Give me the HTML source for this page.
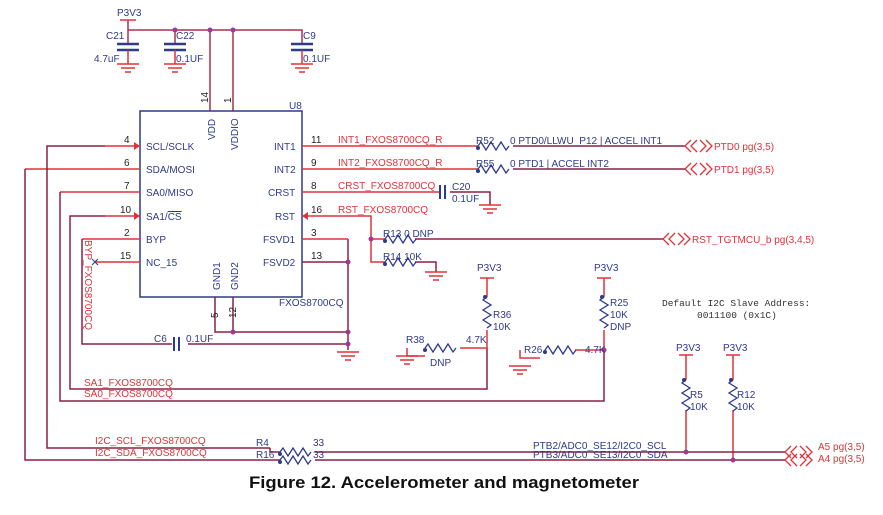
<!DOCTYPE html>
<html><head><meta charset="utf-8"><style>
body{margin:0;background:#fff;width:883px;height:515px;overflow:hidden}
svg{display:block}
text{font-family:"Liberation Sans",Arial,sans-serif;font-size:10px}
.b{fill:#2e3a8a}.r{fill:#e0323a}
</style></head><body>
<svg width="883" height="515" viewBox="0 0 883 515" xmlns="http://www.w3.org/2000/svg">
<defs>
<g id="gnd"><path d="M-11 0H11M-7 4H7M-3 8H3" stroke="#e0323a" stroke-width="1.5" fill="none"/></g>
<g id="rh"><path d="M0 0l3-4 5 8 5-8 5 8 5-8 5 8 3-4" stroke="#2e3a8a" stroke-width="1.3" fill="none"/><circle cx="0" cy="2" r="2" fill="#2e3a8a"/></g>
<g id="rv"><path d="M0 0l-4 3 8 5-8 5 8 5-8 5 8 5-4 3" stroke="#2e3a8a" stroke-width="1.3" fill="none"/><circle cx="-2" cy="0" r="2" fill="#2e3a8a"/></g>
<g id="port"><path d="M6-6L0 0l6 6M12-6L6 0l6 6M15-6l6 6-6 6M21-6l6 6-6 6" stroke="#e0323a" stroke-width="1.3" fill="none"/></g>
</defs>
<g fill="none" stroke-width="1.5">
<path d="M128 20V30H302V44M175 30V44M210 30V111M233 30V111M128 30V44" stroke="#a8324a"/>
<path d="M120 20H136" stroke="#e0323a"/>
<path d="M117 44H139M117 50H139M164 44H186M164 50H186M291 44H313M291 50H313" stroke="#2e3a8a" stroke-width="2.5"/>
<path d="M128 50V64M175 50V64M302 50V64" stroke="#e0323a"/>
<rect x="140" y="111" width="162" height="186" stroke="#2e3a8a"/>
<path d="M105 146H140M25 169H140M60 192H140M105 216H140M82 239H140M95 262H140" stroke="#e0323a"/>
<path d="M105 146H47V448H270M25 169V460H270M60 192V401H604V350M105 216H70V389H487V348M82 239V344H172" stroke="#8b2040"/>
<path d="M188 344H348M215 297V332H348M233 297V332M348 239V350M302 262H348" stroke="#8b2040"/>
<path d="M302 239H348" stroke="#e0323a"/>
<path d="M302 146H478M302 169H478M302 192H440M302 216H371V262H385M371 239H385" stroke="#e0323a"/>
<path d="M513 146H685M513 169H685M415 239H663M415 262H436V272M450 192H490V205" stroke="#8b2040"/>
<path d="M487 278V297M604 278V297M487 330V348H460M407 348V356H425M604 330V350H575M520 350V358H540" stroke="#e0323a"/>
<path d="M480 278H494M597 278H611M679 355H693M726 355H740" stroke="#e0323a"/>
<path d="M686 355V380M733 355V380M686 410V452M733 410V460" stroke="#e0323a"/>
<path d="M315 452H785M315 460H785M270 448V452H280M270 460H280" stroke="#8b2040"/>
<path d="M440 185V199M445 185V199M174 337V351M179 337V351" stroke="#2e3a8a" stroke-width="2"/>
</g>
<path d="M140 146l-6-4v8zM140 216l-6-4v8zM302 216l6-4v8z" fill="#e0323a"/>
<path d="M92 259l6 6M98 259l-6 6" stroke="#2e3a8a"/>
<use href="#gnd" x="128" y="64"/><use href="#gnd" x="175" y="64"/><use href="#gnd" x="302" y="64"/>
<use href="#gnd" x="490" y="205"/><use href="#gnd" x="436" y="272"/><use href="#gnd" x="348" y="352"/>
<use href="#gnd" x="407" y="356"/><use href="#gnd" x="520" y="366"/>
<use href="#rh" x="478" y="146"/><use href="#rh" x="478" y="169"/><use href="#rh" x="385" y="239"/><use href="#rh" x="385" y="262"/>
<use href="#rh" x="425" y="348"/><use href="#rh" x="545" y="350"/><use href="#rh" x="280" y="452"/><use href="#rh" x="280" y="460"/>
<use href="#rv" x="487" y="297"/><use href="#rv" x="604" y="297"/><use href="#rv" x="686" y="380"/><use href="#rv" x="733" y="380"/>
<use href="#port" x="685" y="146"/><use href="#port" x="685" y="169"/><use href="#port" x="663" y="239"/>
<use href="#port" x="785" y="452"/><use href="#port" x="785" y="460"/>
<g fill="#9b3a9b"><circle cx="175" cy="30" r="2.5"/><circle cx="210" cy="30" r="2.5"/><circle cx="233" cy="30" r="2.5"/>
<circle cx="371" cy="239" r="2.5"/><circle cx="348" cy="262" r="2.5"/><circle cx="233" cy="332" r="2.5"/><circle cx="348" cy="332" r="2.5"/><circle cx="348" cy="344" r="2.5"/>
<circle cx="604" cy="350" r="2.5"/><circle cx="686" cy="452" r="2.5"/><circle cx="733" cy="460" r="2.5"/></g>
<g class="b">
<text x="117" y="16">P3V3</text><text x="106" y="39">C21</text><text x="94" y="62">4.7uF</text>
<text x="176" y="39">C22</text><text x="176" y="62">0.1UF</text><text x="303" y="39">C9</text><text x="303" y="62">0.1UF</text>
<text x="289" y="109">U8</text>
<text x="146" y="150">SCL/SCLK</text><text x="146" y="173">SDA/MOSI</text><text x="146" y="196">SA0/MISO</text>
<text x="146" y="220">SA1/<tspan text-decoration="overline">CS</tspan></text><text x="146" y="243">BYP</text><text x="146" y="266">NC_15</text>
<text x="274" y="150">INT1</text><text x="274" y="173">INT2</text><text x="268" y="196">CRST</text><text x="275" y="220">RST</text>
<text x="263" y="243">FSVD1</text><text x="263" y="266">FSVD2</text><text x="279" y="306">FXOS8700CQ</text>
<text transform="translate(215,140) rotate(-90)">VDD</text><text transform="translate(238,150) rotate(-90)">VDDIO</text>
<text transform="translate(220,290) rotate(-90)">GND1</text><text transform="translate(238,290) rotate(-90)">GND2</text>
<text x="154" y="342">C6</text><text x="186" y="342">0.1UF</text>
<text x="452" y="190">C20</text><text x="452" y="202">0.1UF</text>
<text x="476" y="144">R52</text><text x="476" y="167">R55</text>
<text x="510" y="144">0  PTD0/LLWU_P12 | ACCEL INT1</text><text x="510" y="167">0  PTD1 | ACCEL INT2</text>
<text x="383" y="237">R13  0  DNP</text><text x="383" y="260">R14  10K</text>
<text x="477" y="271">P3V3</text><text x="594" y="271">P3V3</text>
<text x="493" y="318">R36</text><text x="493" y="330">10K</text><text x="610" y="306">R25</text><text x="610" y="318">10K</text><text x="610" y="330">DNP</text>
<text x="406" y="343">R38</text><text x="466" y="343">4.7K</text><text x="430" y="366">DNP</text>
<text x="524" y="353">R26</text><text x="585" y="353">4.7K</text>
<text x="676" y="351">P3V3</text><text x="723" y="351">P3V3</text>
<text x="690" y="398">R5</text><text x="690" y="410">10K</text><text x="737" y="398">R12</text><text x="737" y="410">10K</text>
<text x="256" y="446">R4</text><text x="256" y="458">R16</text><text x="313" y="446">33</text><text x="313" y="458">33</text>
<text x="533" y="449">PTB2/ADC0_SE12/I2C0_SCL</text><text x="533" y="458">PTB3/ADC0_SE13/I2C0_SDA</text>
</g>
<g fill="#222"><text x="124" y="143">4</text><text x="124" y="166">6</text><text x="124" y="189">7</text><text x="120" y="213">10</text><text x="124" y="236">2</text><text x="120" y="259">15</text>
<text x="311" y="143">11</text><text x="311" y="166">9</text><text x="311" y="189">8</text><text x="311" y="213">16</text><text x="311" y="236">3</text><text x="311" y="259">13</text>
<text transform="translate(208,103) rotate(-90)">14</text><text transform="translate(231,103) rotate(-90)">1</text>
<text transform="translate(218,318) rotate(-90)">5</text><text transform="translate(236,318) rotate(-90)">12</text></g>
<g class="r">
<text x="338" y="143">INT1_FXOS8700CQ_R</text><text x="338" y="166">INT2_FXOS8700CQ_R</text>
<text x="338" y="189">CRST_FXOS8700CQ</text><text x="338" y="213">RST_FXOS8700CQ</text>
<text x="714" y="150">PTD0  pg(3,5)</text><text x="714" y="173">PTD1  pg(3,5)</text><text x="692" y="243">RST_TGTMCU_b  pg(3,4,5)</text>
<text transform="translate(85,240) rotate(90)">BYP_FXOS8700CQ</text>
<text x="84" y="386">SA1_FXOS8700CQ</text><text x="84" y="397">SA0_FXOS8700CQ</text>
<text x="95" y="444">I2C_SCL_FXOS8700CQ</text><text x="95" y="456">I2C_SDA_FXOS8700CQ</text>
<text x="818" y="450">A5 pg(3,5)</text><text x="818" y="462">A4 pg(3,5)</text>
</g>
<text x="662" y="306" style="font-family:'Liberation Mono',monospace;font-size:9.5px" fill="#333">Default I2C Slave Address:</text>
<text x="697" y="318" style="font-family:'Liberation Mono',monospace;font-size:9.5px" fill="#333">0011100 (0x1C)</text>
<text x="444" y="488" text-anchor="middle" textLength="390" lengthAdjust="spacingAndGlyphs" style="font-size:17px;font-weight:bold" fill="#111">Figure 12. Accelerometer and magnetometer</text>
</svg>
</body></html>
